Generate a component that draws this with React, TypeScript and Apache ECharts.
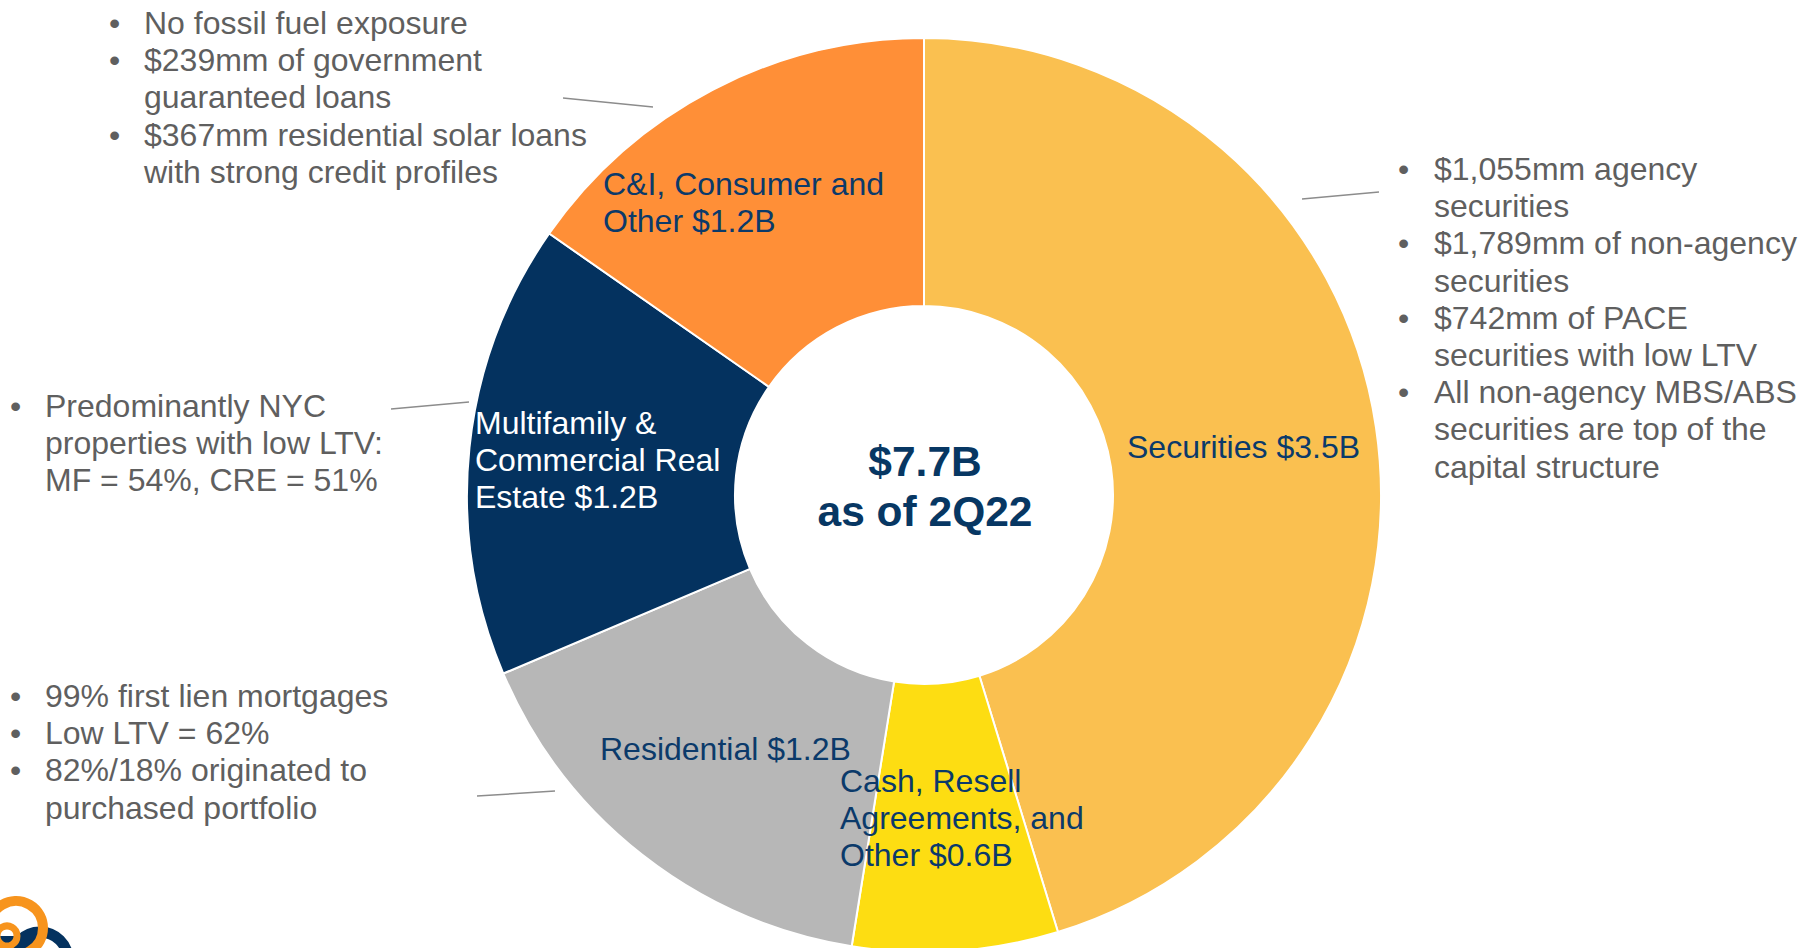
import React, { useEffect, useRef } from "react";
import * as echarts from "echarts";

const categories = [
  "Securities",
  "Cash, Resell Agreements, and Other",
  "Residential",
  "Multifamily & Commercial Real Estate",
  "C&I, Consumer and Other",
];
const values = [3.49, 0.56, 1.24, 1.24, 1.18];
const colors = ["#FAC050", "#FDDD12", "#B7B7B7", "#04325F", "#FF8F37"];

const sliceLabels = [
  { lines: ["Securities $3.5B"], x: 1127, y: 447, color: "#0B3A6A" },
  { lines: ["Cash, Resell", "Agreements, and", "Other $0.6B"], x: 840, y: 781, color: "#0B3A6A" },
  { lines: ["Residential $1.2B"], x: 600, y: 749, color: "#0B3A6A" },
  { lines: ["Multifamily &", "Commercial Real", "Estate $1.2B"], x: 475, y: 423, color: "#FFFFFF" },
  { lines: ["C&I, Consumer and", "Other $1.2B"], x: 603, y: 184, color: "#0B3A6A" },
];

const centerLines = ["$7.7B", "as of 2Q22"];

const notes = [
  {
    bullets: [
      ["No fossil fuel exposure"],
      ["$239mm of government", "guaranteed loans"],
      ["$367mm residential solar loans", "with strong credit profiles"],
    ],
    bx: 109, tx: 144, y: 23,
    leader: [563, 98, 653, 107],
  },
  {
    bullets: [
      ["$1,055mm agency", "securities"],
      ["$1,789mm of non-agency", "securities"],
      ["$742mm of PACE", "securities with low LTV"],
      ["All non-agency MBS/ABS", "securities are top of the", "capital structure"],
    ],
    bx: 1398, tx: 1434, y: 169,
    leader: [1302, 199, 1379, 192],
  },
  {
    bullets: [["Predominantly NYC", "properties with low LTV:", "MF = 54%, CRE = 51%"]],
    bx: 10, tx: 45, y: 406,
    leader: [391, 409, 469, 402],
  },
  {
    bullets: [
      ["99% first lien mortgages"],
      ["Low LTV = 62%"],
      ["82%/18% originated to", "purchased portfolio"],
    ],
    bx: 10, tx: 45, y: 696,
    leader: [477, 796, 555, 791],
  },
];

const FONT = "'Liberation Sans', Arial, Helvetica, sans-serif";
const FS = 32;
const LH = 37.2;

export default function App() {
  const ref = useRef<HTMLDivElement>(null);
  useEffect(() => {
    if (!ref.current) return;
    const chart = echarts.init(ref.current, undefined, { renderer: "svg" });
    const graphics: any[] = [];

    notes.forEach((n) => {
      let row = 0;
      n.bullets.forEach((b) => {
        graphics.push({
          type: "text",
          x: n.bx,
          y: n.y + row * LH,
          style: { text: "•", fill: "#5F5F5F", font: `${FS}px ${FONT}`, verticalAlign: "middle" },
        });
        b.forEach((line) => {
          graphics.push({
            type: "text",
            x: n.tx,
            y: n.y + row * LH,
            style: { text: line, fill: "#5F5F5F", font: `${FS}px ${FONT}`, verticalAlign: "middle" },
          });
          row++;
        });
      });
      const [x1, y1, x2, y2] = n.leader;
      graphics.push({
        type: "line",
        shape: { x1, y1, x2, y2 },
        style: { stroke: "#8C8C8C", lineWidth: 1.5 },
      });
    });

    sliceLabels.forEach((s) => {
      s.lines.forEach((line, i) => {
        graphics.push({
          type: "text",
          x: s.x,
          y: s.y + i * LH,
          z: 100,
          style: { text: line, fill: s.color, font: `${FS}px ${FONT}`, verticalAlign: "middle" },
        });
      });
    });

    centerLines.forEach((line, i) => {
      graphics.push({
        type: "text",
        x: 925,
        y: 461 + i * 50,
        z: 100,
        style: {
          text: line,
          fill: "#073763",
          font: `bold 42.5px ${FONT}`,
          align: "center",
          verticalAlign: "middle",
        },
      });
    });

    // logo fragment
    graphics.push(
      { type: "rect", shape: { x: 0, y: 936, width: 36, height: 12 }, style: { fill: "#04325F" } },
      { type: "arc", shape: { cx: 40, cy: 960, r: 28, startAngle: Math.PI, endAngle: 2 * Math.PI }, style: { stroke: "#04325F", lineWidth: 11, fill: "none" } },
      { type: "circle", shape: { cx: 16, cy: 928, r: 27 }, style: { stroke: "#F7941D", lineWidth: 10, fill: "none" } },
      { type: "circle", shape: { cx: 7, cy: 936, r: 10 }, style: { stroke: "#F7941D", lineWidth: 7, fill: "none" } }
    );

    chart.setOption({
      animation: false,
      backgroundColor: "#FFFFFF",
      series: [
        {
          type: "pie",
          center: [924, 495],
          radius: [189, 457],
          startAngle: 90,
          clockwise: true,
          avoidLabelOverlap: false,
          label: { show: false },
          labelLine: { show: false },
          emphasis: { disabled: true },
          itemStyle: { borderColor: "#FFFFFF", borderWidth: 2 },
          data: categories.map((c, i) => ({
            name: c,
            value: values[i],
            itemStyle: { color: colors[i] },
          })),
        },
      ],
      graphic: { elements: graphics },
    });
    return () => chart.dispose();
  }, []);
  return (
    <div
      ref={ref}
      style={{ position: "fixed", left: 0, top: 0, width: 1802, height: 948 }}
    />
  );
}
